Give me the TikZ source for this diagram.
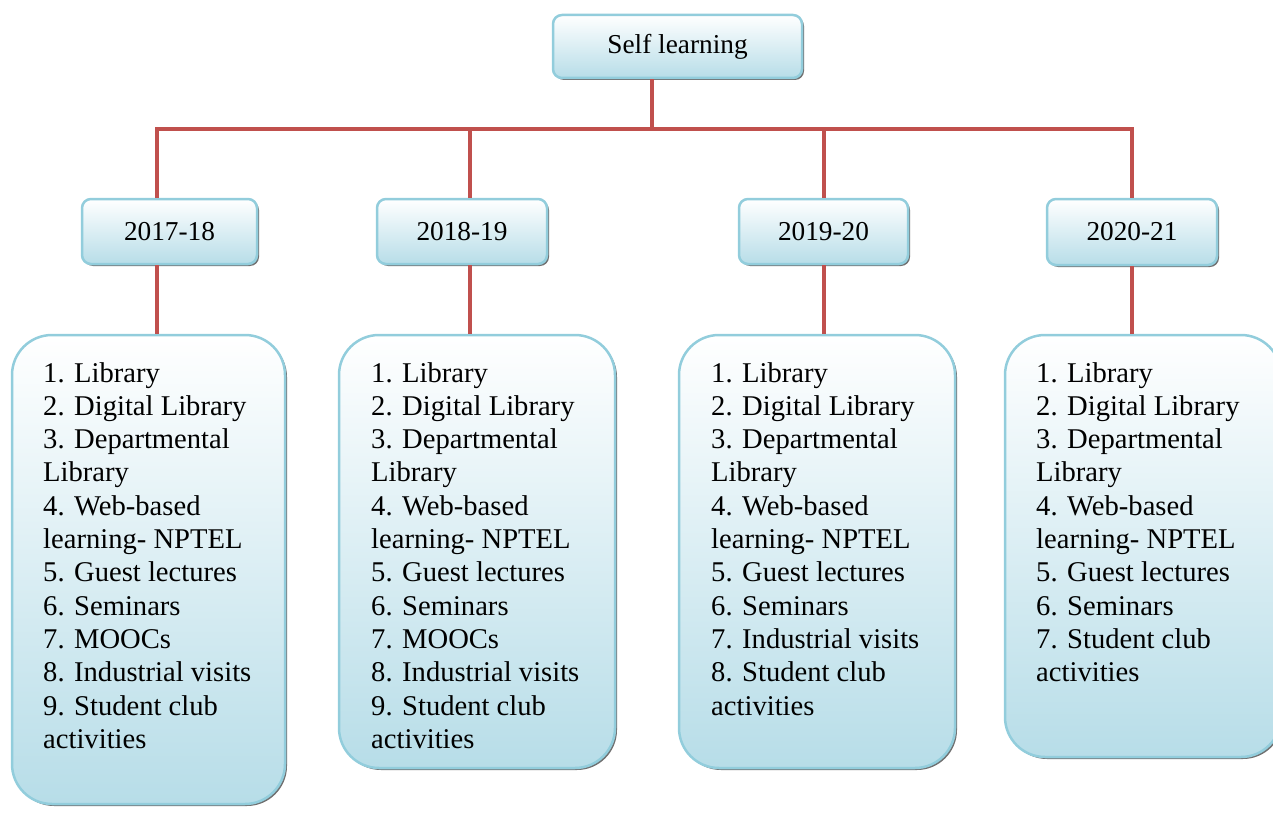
\documentclass[tikz,border=0pt]{standalone}
\usepackage{fontspec}
\setmainfont{Liberation Serif}
\usetikzlibrary{shadows}
\definecolor{lineRed}{RGB}{192,80,77}
\definecolor{boxBorder}{RGB}{146,205,220}
\definecolor{boxFill}{RGB}{183,221,232}
\begin{document}
\begin{tikzpicture}[x=1pt,y=-1pt,
  hdr/.style={draw=boxBorder, line width=2.5pt, rounded corners=9pt,
    top color=white, bottom color=boxFill,
    drop shadow={shadow xshift=2pt, shadow yshift=-2pt, fill=black!70, opacity=0.8},
    font=\fontsize{27.3}{32}\selectfont, inner sep=0pt},
  listbox/.style={draw=boxBorder, line width=2.5pt, rounded corners=40pt,
    top color=white, bottom color=boxFill,
    drop shadow={shadow xshift=2pt, shadow yshift=-2pt, fill=black!70, opacity=0.8},
    inner sep=0pt},
  listtext/.style={anchor=base west, inner sep=0pt, font=\fontsize{28.6}{33.3}\selectfont},
  conn/.style={draw=lineRed, line width=3.5pt}]
\useasboundingbox (0,0) rectangle (1273,813);

% header boxes
\node[hdr, minimum width=249pt, minimum height=63pt] (top) at (677.5,46.5) {Self learning};
\node[hdr, minimum width=175pt, minimum height=65pt] (y1) at (169.5,231.5) {2017-18};
\node[hdr, minimum width=170pt, minimum height=65pt] (y2) at (462,231.5) {2018-19};
\node[hdr, minimum width=169pt, minimum height=65pt] (y3) at (823.5,231.5) {2019-20};
\node[hdr, minimum width=170pt, minimum height=66pt] (y4) at (1132,232) {2020-21};

% list boxes
\node[listbox, minimum width=273pt, minimum height=469pt] (l1) at (148.5,569.5) {};
\node[listbox, minimum width=276pt, minimum height=433pt] (l2) at (477,551.5) {};
\node[listbox, minimum width=276pt, minimum height=433pt] (l3) at (817,551.5) {};
\node[listbox, minimum width=276pt, minimum height=422pt] (l4) at (1143,546) {};

% list texts
\node[listtext] (t1) at (43,382) {\begin{tabular}[t]{@{}l@{}}1. Library\\2. Digital Library\\3. Departmental\\Library\\4. Web-based\\learning- NPTEL\\5. Guest lectures\\6. Seminars\\7. MOOCs\\8. Industrial visits\\9. Student club\\activities\end{tabular}};
\node[listtext] (t2) at (371,382) {\begin{tabular}[t]{@{}l@{}}1. Library\\2. Digital Library\\3. Departmental\\Library\\4. Web-based\\learning- NPTEL\\5. Guest lectures\\6. Seminars\\7. MOOCs\\8. Industrial visits\\9. Student club\\activities\end{tabular}};
\node[listtext] (t3) at (711,382) {\begin{tabular}[t]{@{}l@{}}1. Library\\2. Digital Library\\3. Departmental\\Library\\4. Web-based\\learning- NPTEL\\5. Guest lectures\\6. Seminars\\7. Industrial visits\\8. Student club\\activities\end{tabular}};
\node[listtext] (t4) at (1036,382) {\begin{tabular}[t]{@{}l@{}}1. Library\\2. Digital Library\\3. Departmental\\Library\\4. Web-based\\learning- NPTEL\\5. Guest lectures\\6. Seminars\\7. Student club\\activities\end{tabular}};

% connector coordinates
\coordinate (b0) at (652,129);
\coordinate (b1) at (157,129);
\coordinate (b2) at (470,129);
\coordinate (b3) at (824,129);
\coordinate (b4) at (1132,129);

\draw[conn] (top.south -| b0) -- (b0);
\draw[conn, line cap=rect] (b1) -- (b4);
\draw[conn] (b1) -- (b1 |- y1.north);
\draw[conn] (b2) -- (b2 |- y2.north);
\draw[conn] (b3) -- (b3 |- y3.north);
\draw[conn] (b4) -- (b4 |- y4.north);
\draw[conn] (y1.south -| b1) -- (b1 |- l1.north);
\draw[conn] (y2.south -| b2) -- (b2 |- l2.north);
\draw[conn] (y3.south -| b3) -- (b3 |- l3.north);
\draw[conn] (y4.south -| b4) -- (b4 |- l4.north);
\end{tikzpicture}
\end{document}
